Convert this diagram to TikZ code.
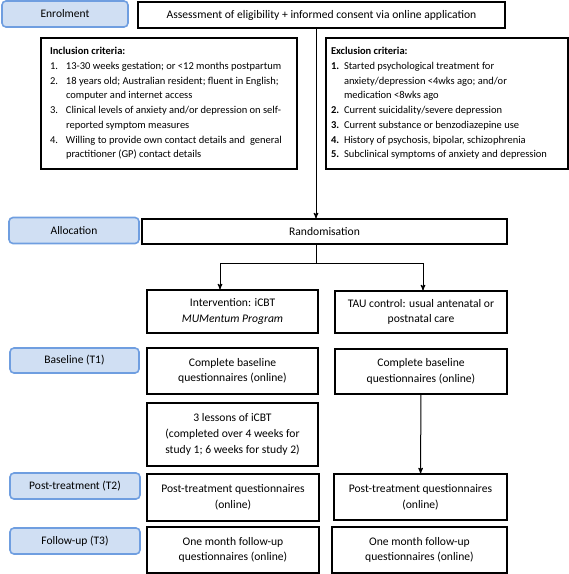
\documentclass[tikz,border=0pt]{standalone}
\usepackage{fontspec}
\setmainfont{Carlito}
\usepackage{tikz}
\usetikzlibrary{arrows}

\definecolor{phaseline}{RGB}{111,158,224}
\definecolor{phasefill}{RGB}{208,223,243}

\newcommand{\critem}[3]{\par\noindent\hangindent=#1\hangafter=1\makebox[#1][l]{#2}#3}

\begin{document}
\begin{tikzpicture}[x=1pt,y=-1pt,->,>=stealth',line width=1pt,
        phase/.style={draw=phaseline,fill=phasefill,line width=1.6pt,rounded corners=4pt,
          minimum width=130pt,minimum height=26pt,inner sep=0pt,font=\fontsize{11.5}{13}\selectfont},
        stage/.style={draw=black,line width=1.1pt,align=center,inner sep=0pt,
          font=\fontsize{11.6}{15.8}\selectfont},
        criteria/.style={draw=black,line width=1.1pt,inner sep=0pt,minimum height=131pt,
          font=\fontsize{10.5}{14.7}\selectfont}]

  \useasboundingbox (0,0) rectangle (569,574);

  \node[phase,minimum width=126pt] (Enrolment) at (65,14) {Enrolment};
  \node[stage,minimum width=367pt,minimum height=26pt] (Assessment) at (321.5,15)
        {Assessment of eligibility + informed consent via online application};

  \node[criteria,minimum width=256pt] (Inclusion) at (169,103.5) {%
    \begin{minipage}{238pt}\raggedright
      \textbf{Inclusion criteria:}
      \critem{16pt}{1.}{13-30 weeks gestation; or <12 months postpartum}
      \critem{16pt}{2.}{18 years old; Australian resident; fluent in English;\newline computer and internet access}
      \critem{16pt}{3.}{Clinical levels of anxiety and/or depression on self-\newline reported symptom measures}
      \critem{16pt}{4.}{Willing to provide own contact details and~ general\newline practitioner (GP) contact details}
    \end{minipage}};
  \node[criteria,minimum width=242pt] (Exclusion) at (447,103.5) {%
    \begin{minipage}{232pt}\raggedright
      \textbf{Exclusion criteria:}
      \critem{13pt}{\textbf{1.}}{Started psychological treatment for\newline anxiety/depression <4wks ago; and/or\newline medication <8wks ago}
      \critem{13pt}{\textbf{2.}}{Current suicidality/severe depression}
      \critem{13pt}{\textbf{3.}}{Current substance or benzodiazepine use}
      \critem{13pt}{\textbf{4.}}{History of psychosis, bipolar, schizophrenia}
      \critem{13pt}{\textbf{5.}}{Subclinical symptoms of anxiety and depression}
    \end{minipage}};

  \node[phase] (Allocation) at (74,230.5) {Allocation};
  \node[stage,minimum width=365pt,minimum height=25pt] (Randomisation) at (324.5,231.5) {Randomisation};

  \node[stage,minimum width=171pt,minimum height=43pt] (Intervention) at (232.5,311.5)
        {Intervention: iCBT\\\textit{MUMentum Program}};
  \node[stage,minimum width=172pt,minimum height=42pt] (Control) at (421,312)
        {TAU control: usual antenatal or\\postnatal care};

  \node[phase,minimum width=129pt,minimum height=25pt] (Baseline) at (74.5,360.5) {Baseline (T1)};
  \node[stage,minimum width=171pt,minimum height=46pt] (Baseline I) at (232.5,371)
        {Complete baseline\\questionnaires (online)};
  \node[stage,minimum width=172pt,minimum height=45pt] (Baseline C) at (421,371.5)
        {Complete baseline\\questionnaires (online)};
  \node[stage,minimum width=171pt,minimum height=63pt] (Lessons) at (232.5,434.5)
        {3 lessons of iCBT\\(completed over 4 weeks for\\study 1; 6 weeks for study 2)};

  \node[phase] (Post) at (75,486) {Post-treatment (T2)};
  \node[stage,minimum width=172pt,minimum height=47pt] (Post I) at (233,497.5)
        {Post-treatment questionnaires\\(online)};
  \node[stage,minimum width=173pt,minimum height=46pt] (Post C) at (420.5,497)
        {Post-treatment questionnaires\\(online)};

  \node[phase] (Follow) at (75,541) {Follow-up (T3)};
  \node[stage,minimum width=172pt,minimum height=46pt] (Follow I) at (233,550)
        {One month follow-up\\questionnaires (online)};
  \node[stage,minimum width=175pt,minimum height=46pt] (Follow C) at (419.5,550)
        {One month follow-up\\questionnaires (online)};

  \coordinate (Split) at (316,263);
  \coordinate (Split I) at (220,263);
  \coordinate (Split C) at (423,263);

  \path (Assessment.south -| Split) edge (Randomisation.north -| Split)
        (Split I) edge (Intervention.north -| Split I)
        (Split C) edge (Control.north -| Split C)
        (Baseline C) edge (Post C);
  \draw[-] (Randomisation.south -| Split) -- (Split)
        (Split I) -- (Split C);
\end{tikzpicture}
\end{document}
